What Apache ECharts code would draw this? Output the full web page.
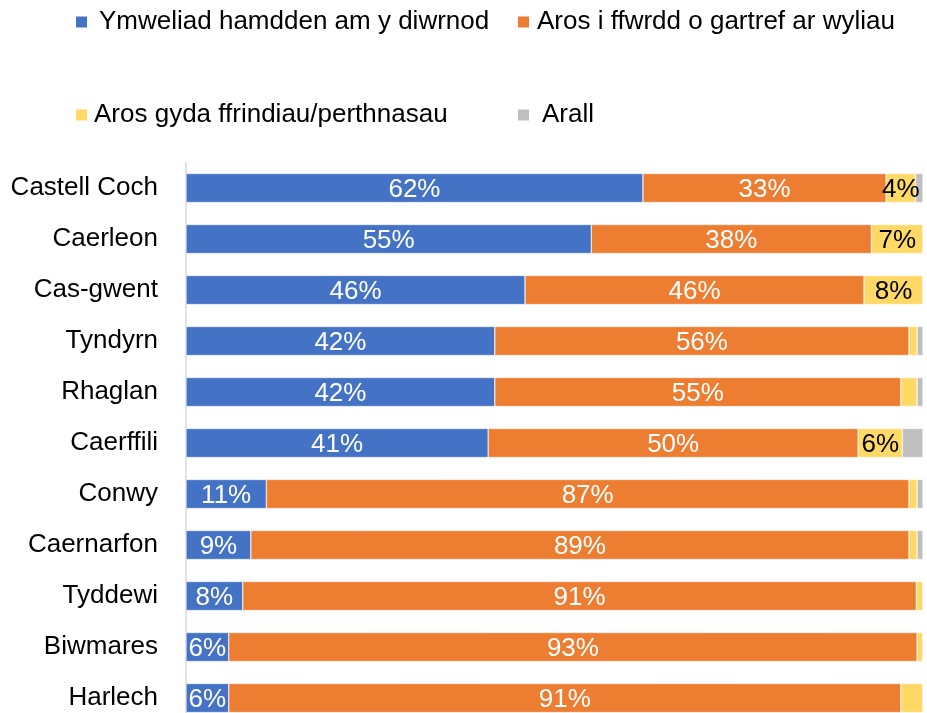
<!DOCTYPE html>
<html>
<head>
<meta charset="UTF-8">
<title></title>
<script src="https://cdn.jsdelivr.net/npm/echarts@6/dist/echarts.min.js"></script>
<style>
  html, body { margin: 0; padding: 0; background: #fff; }
  #main { width: 927px; height: 713px; }
</style>
</head>
<body>
<div id="main"></div>
<script>
  // categories (top to bottom)
  var sites = ['Castell Coch', 'Caerleon', 'Cas-gwent', 'Tyndyrn', 'Rhaglan', 'Caerffili',
    'Conwy', 'Caernarfon', 'Tyddewi', 'Biwmares', 'Harlech'];
  var seriesNames = ['Ymweliad hamdden am y diwrnod', 'Aros i ffwrdd o gartref ar wyliau',
    'Aros gyda ffrindiau/perthnasau', 'Arall'];
  // percentages
  var dayVisit = [62, 55, 46, 41.9, 41.9, 41, 10.9, 8.8, 7.7, 5.8, 5.8];
  var holiday = [33, 38, 46, 56.2, 55.1, 50.2, 87.2, 89.3, 91.4, 93.4, 91.2];
  var friends = [4, 7, 8, 1.1, 2.2, 6, 1.1, 1.1, 0.9, 0.8, 3];
  var other = [1, 0, 0, 0.8, 0.8, 2.8, 0.8, 0.8, 0, 0, 0];

  var colors = ['#4472C4', '#ED7D31', '#FFD966', '#BFBFBF'];
  var font = 'Liberation Sans, Arial, sans-serif';

  function makeSeries(idx, data, labelColor, minShow) {
    return {
      name: seriesNames[idx],
      type: 'bar',
      stack: 'total',
      barWidth: '57%',
      data: data,
      itemStyle: { color: colors[idx], borderColor: '#fff', borderWidth: 0.5 },
      label: {
        show: minShow !== null,
        position: 'inside',
        offset: [0, 2],
        color: labelColor,
        fontFamily: font,
        fontSize: 26,
        formatter: function (p) {
          if (minShow === null || p.value < minShow) return '';
          return Math.round(p.value) + '%';
        }
      }
    };
  }

  function legendItem(idx, left, top, gap) {
    return {
      data: [seriesNames[idx]],
      left: left,
      top: top,
      padding: 0,
      icon: 'rect',
      itemWidth: 13,
      itemHeight: 13,
      itemGap: 0,
      textStyle: { fontSize: 26, color: '#000', fontFamily: font, padding: [0, 0, 0, gap] }
    };
  }

  var myChart = echarts.init(document.getElementById('main'));
  var option = {
    animation: false,
    legend: [
      legendItem(0, 74, 9, 6),
      legendItem(1, 516, 9, 2),
      legendItem(2, 74, 102, 1),
      legendItem(3, 516, 102, 7)
    ],
    grid: {
      left: 186,
      right: 4,
      top: 162.5,
      bottom: -10.5,
      containLabel: false,
      outerBoundsMode: 'none'
    },
    xAxis: {
      type: 'value',
      min: 0,
      max: 100,
      show: false
    },
    yAxis: {
      type: 'category',
      inverse: true,
      data: sites,
      axisLine: { show: true, lineStyle: { color: '#D9D9D9', width: 1.5 } },
      axisTick: { show: false },
      axisLabel: { margin: 28, fontSize: 26, color: '#000', fontFamily: font, padding: [4, 0, 0, 0] }
    },
    series: [
      makeSeries(0, dayVisit, '#fff', 0),
      makeSeries(1, holiday, '#fff', 0),
      makeSeries(2, friends, '#000', 4),
      makeSeries(3, other, '#000', null)
    ]
  };
  myChart.setOption(option);
</script>
</body>
</html>
